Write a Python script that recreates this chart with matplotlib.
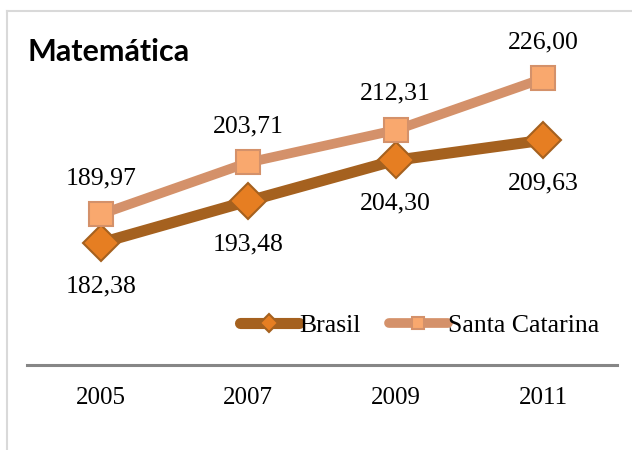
import matplotlib.pyplot as plt
from matplotlib.lines import Line2D

anos = ['2005', '2007', '2009', '2011']
brasil = [182.38, 193.48, 204.30, 209.63]
santa_catarina = [189.97, 203.71, 212.31, 226.00]

def fmt(v):
    return ('%.2f' % v).replace('.', ',')

plt.rcParams['font.family'] = ['Liberation Serif', 'DejaVu Serif']

fig = plt.figure(figsize=(6.32, 4.5), dpi=100)
ax = fig.add_axes([27/632, 1-365/450, 590/632, 345/450])

x = range(len(anos))

ax.plot(x, brasil, color='#A5611F', lw=8, solid_capstyle='round',
        marker='D', markersize=18, markerfacecolor='#E67E22',
        markeredgecolor='#A5611F', markeredgewidth=1.5, label='Brasil', zorder=3)
ax.plot(x, santa_catarina, color='#D4916A', lw=7, solid_capstyle='round',
        marker='s', markersize=17, markerfacecolor='#F9A86E',
        markeredgecolor='#D4916A', markeredgewidth=1.5, label='Santa Catarina', zorder=3)

for i, v in enumerate(brasil):
    ax.annotate(fmt(v), (i, v), xytext=(0, -31), textcoords='offset points',
                ha='center', va='center', fontsize=18.5)
for i, v in enumerate(santa_catarina):
    ax.annotate(fmt(v), (i, v), xytext=(0, 26), textcoords='offset points',
                ha='center', va='center', fontsize=18.5)

ax.set_xlim(-0.5, 3.5)
ax.set_ylim(150, 241.5)
ax.set_xticks(list(x))
ax.set_xticklabels(anos, fontsize=18)
ax.set_yticks([])
ax.tick_params(axis='x', length=0, pad=16)
for s in ['top', 'right', 'left']:
    ax.spines[s].set_visible(False)
ax.spines['bottom'].set_color('#868686')
ax.spines['bottom'].set_linewidth(2.2)

leg = ax.legend(loc='lower right', bbox_to_anchor=(1.0, 0.03), ncol=2, frameon=False,
                fontsize=18.5, handlelength=2.3, handletextpad=0.0, columnspacing=1.1,
                markerscale=0.5, borderaxespad=0.3)

fig.text(27/632, 1-52/450, 'Matemática', family='Lato', fontweight='bold',
         fontsize=22, ha='left', va='center')

# moldura do gráfico
fig.add_artist(Line2D([6.5/632, 1], [1-11/450, 1-11/450], color='#D9D9D9', lw=1.5))
fig.add_artist(Line2D([6.5/632, 6.5/632], [0, 1-11/450], color='#D9D9D9', lw=1.5))

plt.savefig('out.png', dpi=100)
